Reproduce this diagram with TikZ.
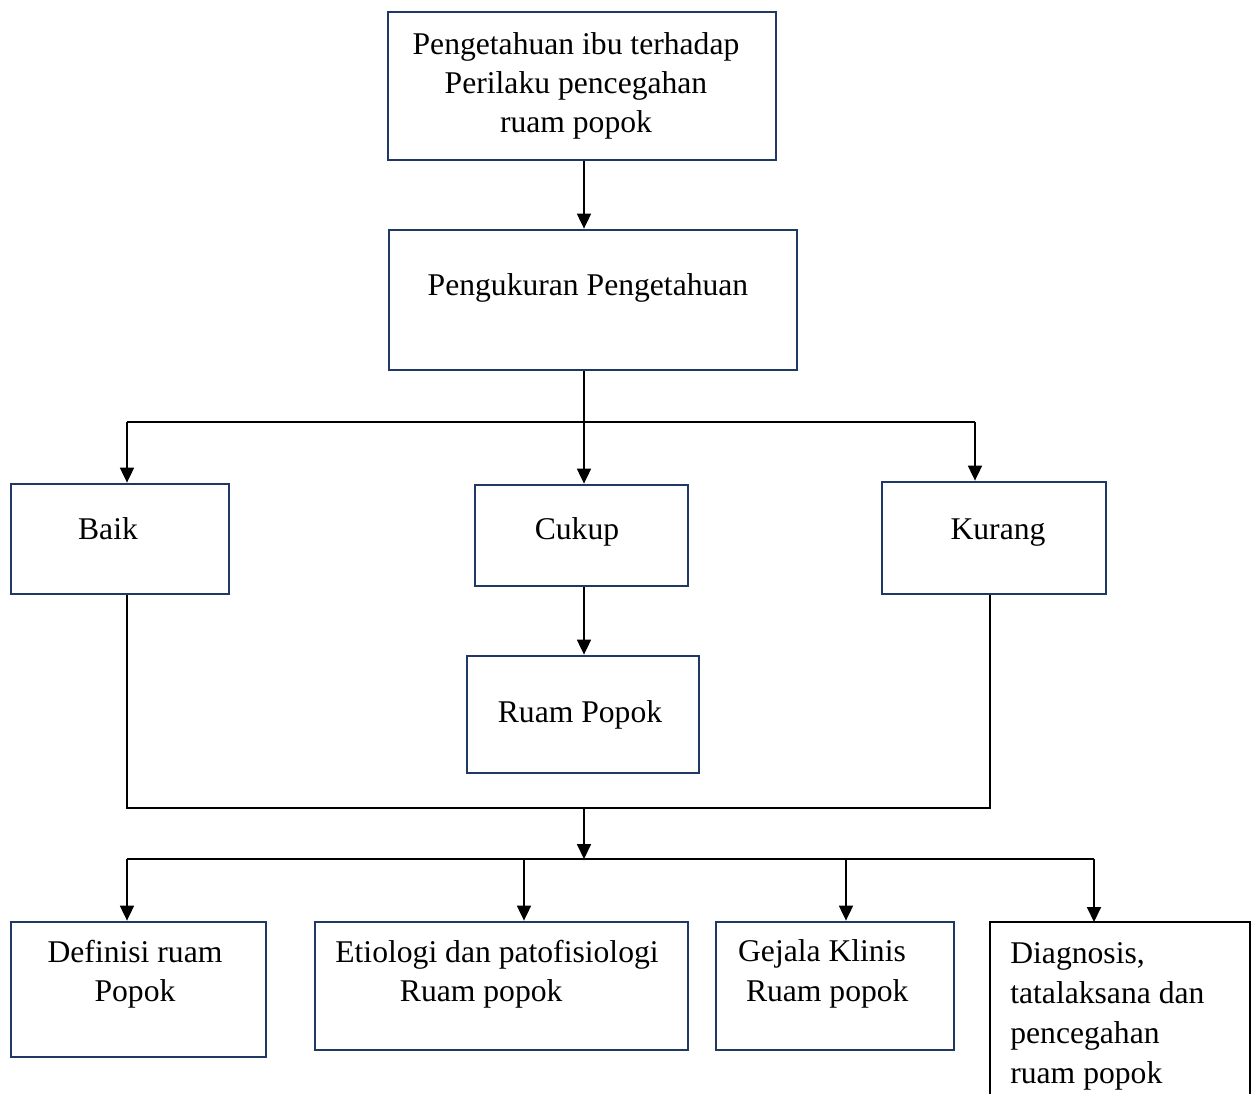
\documentclass[tikz,border=0pt]{standalone}
\usepackage{fontspec}
\setmainfont{Liberation Serif}
\usetikzlibrary{arrows.meta}
\definecolor{navy}{HTML}{1F3864}
\tikzset{
  box/.style={draw=navy, line width=1.6pt, rectangle, inner sep=0pt},
  bbox/.style={draw=black, line width=1.6pt},
  lbl/.style={font=\fontsize{18}{22.4}\selectfont, align=center, inner sep=0pt},
  conn/.style={line width=0.85pt, draw=black},
  arr/.style={conn, -{Triangle[width=8pt,length=8.5pt]}}
}
\begin{document}
\begin{tikzpicture}[x=0.02cm, y=-0.02cm]
\useasboundingbox (0,0) rectangle (1259,1094);
\clip (0,0) rectangle (1259,1094);
% boxes
\node[box, minimum width=388*0.02cm, minimum height=148*0.02cm] (top) at (582,86) {};
\node[box, minimum width=408*0.02cm, minimum height=140*0.02cm] (peng) at (593,300) {};
\node[box, minimum width=218*0.02cm, minimum height=110*0.02cm] (baik) at (120,539) {};
\node[box, minimum width=213*0.02cm, minimum height=101*0.02cm] (cukup) at (581.5,535.5) {};
\node[box, minimum width=224*0.02cm, minimum height=112*0.02cm] (kurang) at (994,538) {};
\node[box, minimum width=232*0.02cm, minimum height=117*0.02cm] (ruam) at (583,714.5) {};
\node[box, minimum width=255*0.02cm, minimum height=135*0.02cm] (def) at (138.5,989.5) {};
\node[box, minimum width=373*0.02cm, minimum height=128*0.02cm] (etio) at (501.5,986) {};
\node[box, minimum width=238*0.02cm, minimum height=128*0.02cm] (gej) at (835,986) {};
\coordinate (dtl) at (990,922);
\coordinate (dbl) at (990,1110);
\coordinate (dtr) at (1250,922);
\coordinate (dbr) at (1250,1110);
\draw[bbox] (dbl) -- (dtl) -- (dtr) -- (dbr);
% texts
\node[lbl] (ttop) at (576,86) {Pengetahuan ibu terhadap\\Perilaku pencegahan\\ruam popok};
\node[lbl] (tpeng) at (588,288) {Pengukuran Pengetahuan};
\node[lbl] (tbaik) at (108,529) {Baik};
\node[lbl] (tcukup) at (577,532) {Cukup};
\node[lbl] (tkurang) at (998,533) {Kurang};
\node[lbl] (truam) at (580,715) {Ruam Popok};
\node[lbl] (tdef) at (135,974) {Definisi ruam\\Popok};
\node[lbl] (tetio) at (497,974) {Etiologi dan patofisiologi\\Ruam popok\hspace*{18pt}};
\node[lbl] (tgej) at (822,974) {Gejala Klinis\\\hspace*{6pt}Ruam popok};
\node[lbl, align=left, anchor=west] (tdiag) at (1010,1016) {Diagnosis,\\[0.35pt]tatalaksana dan\\[0.35pt]pencegahan\\[0.35pt]ruam popok};
% connectors
\coordinate (j1) at (584,422);
\coordinate (j1l) at (127,422);
\coordinate (j1r) at (975,422);
\draw[arr] (top.south -| j1) -- (peng.north -| j1);
\draw[conn] (peng.south -| j1) -- (j1);
\draw[conn] (j1l) -- (j1r);
\draw[arr] (j1l) -- (baik.north -| j1l);
\draw[arr] (j1) -- (cukup.north -| j1);
\draw[arr] (j1r) -- (kurang.north -| j1r);
\draw[arr] (cukup.south -| j1) -- (ruam.north -| j1);
\coordinate (j2l) at (127,808);
\coordinate (j2r) at (990,808);
\coordinate (j2) at (584,808);
\draw[conn] (baik.south -| j2l) -- (j2l) -- (j2r) -- (kurang.south -| j2r);
\coordinate (j3) at (584,859);
\draw[arr] (j2) -- (j3);
\coordinate (j3a) at (127,859);
\coordinate (j3b) at (524,859);
\coordinate (j3c) at (846,859);
\coordinate (j3d) at (1094,859);
\draw[conn] (j3a) -- (j3d);
\draw[arr] (j3a) -- (def.north -| j3a);
\draw[arr] (j3b) -- (etio.north -| j3b);
\draw[arr] (j3c) -- (gej.north -| j3c);
\draw[arr] (j3d) -- (dtl -| j3d);
\end{tikzpicture}
\end{document}
